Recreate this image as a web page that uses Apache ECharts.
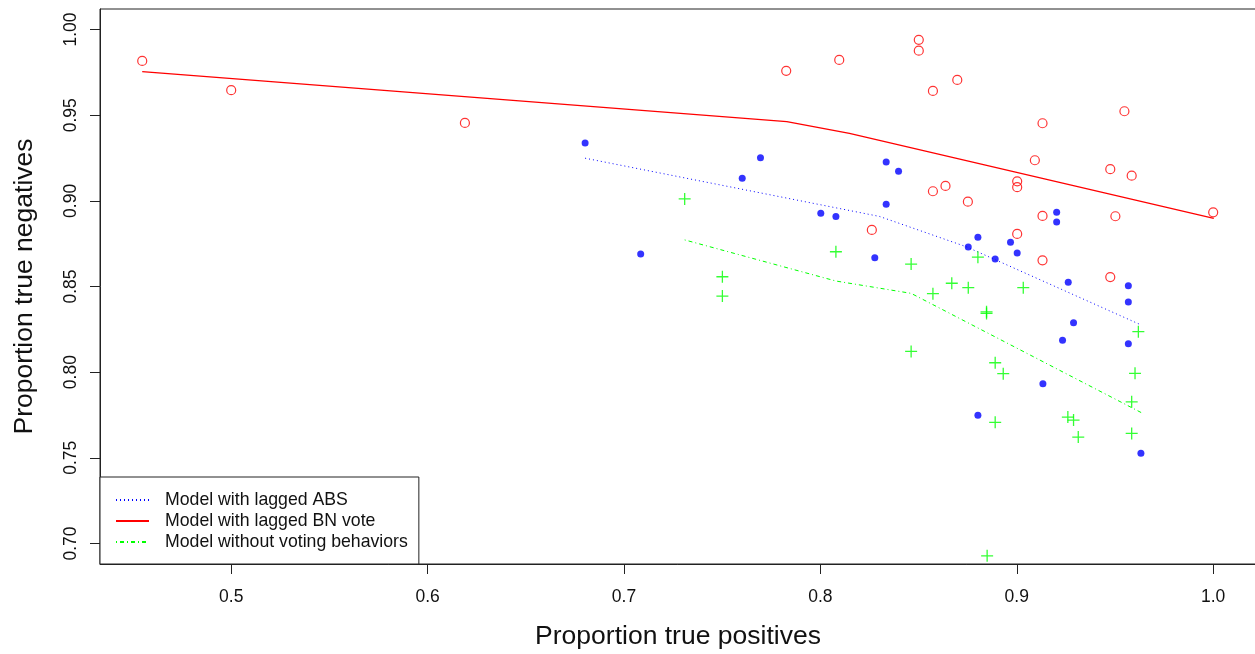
<!DOCTYPE html>
<html>
<head>
<meta charset="utf-8">
<script src="https://cdn.jsdelivr.net/npm/echarts@6.0.0/dist/echarts.min.js"></script>
<style>
  html, body { margin: 0; padding: 0; background: #fff; }
  #chart { width: 1255px; height: 654px; }
</style>
</head>
<body>
<div id="chart"></div>
<script>
// tick labels
const xTicks = [0.5, 0.6, 0.7, 0.8, 0.9, 1.0];
const yTicks = [0.70, 0.75, 0.80, 0.85, 0.90, 0.95, 1.00];

// model with lagged BN vote (open red circles)
const bnX = [0.4547, 0.5000, 0.6190, 0.7826, 0.8096, 0.8262, 0.8501, 0.8501, 0.8697, 0.8573,
  0.9548, 0.9131, 0.9092, 0.9476, 0.9585, 0.8573, 0.8637, 0.9002, 0.9002, 0.8751,
  0.9131, 0.9502, 1.0000, 0.9002, 0.9131, 0.9476];
const bnY = [0.9817, 0.9646, 0.9455, 0.9759, 0.9823, 0.8830, 0.9940, 0.9877, 0.9706, 0.9642,
  0.9523, 0.9453, 0.9237, 0.9185, 0.9147, 0.9056, 0.9087, 0.9114, 0.9080, 0.8995,
  0.8912, 0.8910, 0.8933, 0.8807, 0.8653, 0.8555];

// model with lagged ABS (filled blue dots)
const absX = [0.6802, 0.7695, 0.7602, 0.8335, 0.8398, 0.8335, 0.8002, 0.8079, 0.7085, 0.8277,
  0.9203, 0.9203, 0.8802, 0.8753, 0.8968, 0.9002, 0.8890, 0.9262, 0.9568, 0.9568,
  0.9289, 0.9233, 0.9568, 0.9133, 0.8802, 0.9632];
const absY = [0.9338, 0.9251, 0.9132, 0.9227, 0.9173, 0.8980, 0.8928, 0.8908, 0.8690, 0.8668,
  0.8933, 0.8877, 0.8787, 0.8731, 0.8758, 0.8696, 0.8661, 0.8525, 0.8505, 0.8409,
  0.8289, 0.8186, 0.8166, 0.7932, 0.7748, 0.7527];

// model without voting behaviors (green crosses)
const noVoteX = [0.7309, 0.8079, 0.7501, 0.7501, 0.8462, 0.8573, 0.8462, 0.8802, 0.8669, 0.8753,
  0.9033, 0.8846, 0.8846, 0.8890, 0.8931, 0.9619, 0.9602, 0.9585, 0.8890, 0.9260,
  0.9289, 0.9313, 0.9585, 0.8849, 0.7309];
const noVoteY = [0.9011, 0.8703, 0.8557, 0.8444, 0.8631, 0.8458, 0.8121, 0.8671, 0.8519, 0.8493,
  0.8493, 0.8352, 0.8343, 0.8055, 0.7991, 0.8236, 0.7993, 0.7827, 0.7707, 0.7738,
  0.7720, 0.7621, 0.7642, 0.6928, 0.6840];

// fitted curves
const bnLineX = [0.4547, 0.7829, 0.8148, 1.0003];
const bnLineY = [0.9755, 0.9463, 0.9394, 0.8898];
const absLineX = [0.6802, 0.8301, 0.8743, 0.9634];
const absLineY = [0.9249, 0.8909, 0.8732, 0.8275];
const noVoteLineX = [0.7309, 0.8079, 0.8462, 0.9642];
const noVoteLineY = [0.8772, 0.8532, 0.8460, 0.7759];

const zip = (xs, ys) => xs.map((x, i) => [x, ys[i]]);

const FONT = 'Liberation Sans';
const AXIS_COLOR = '#222';

const chart = echarts.init(document.getElementById('chart'));
chart.setOption({
  animation: false,
  backgroundColor: '#fff',
  grid: {
    left: 100, top: 9, right: -1, bottom: 90,
    containLabel: false,
    outerBoundsMode: 'none',
    show: true,
    borderColor: AXIS_COLOR,
    borderWidth: 1,
    backgroundColor: 'transparent'
  },
  xAxis: {
    type: 'value',
    min: 0.4332,
    max: 1.0218,
    name: 'Proportion true positives',
    nameLocation: 'middle',
    nameGap: 59,
    nameTextStyle: { fontFamily: FONT, fontSize: 26.5, color: '#111' },
    axisLine: { show: true, onZero: false, lineStyle: { color: AXIS_COLOR, width: 1 } },
    axisTick: { show: true, inside: false, length: 10, customValues: xTicks, lineStyle: { color: AXIS_COLOR } },
    axisLabel: {
      show: true, margin: 24, customValues: xTicks,
      fontFamily: FONT, fontSize: 17.5, color: '#111',
      formatter: v => v.toFixed(1)
    },
    splitLine: { show: false }
  },
  yAxis: {
    type: 'value',
    min: 0.688,
    max: 1.012,
    name: 'Proportion true negatives',
    nameLocation: 'middle',
    nameGap: 62,
    nameRotate: 90,
    nameTextStyle: { fontFamily: FONT, fontSize: 26.5, color: '#111' },
    axisLine: { show: true, onZero: false, lineStyle: { color: AXIS_COLOR, width: 1 } },
    axisTick: { show: true, inside: false, length: 10, customValues: yTicks, lineStyle: { color: AXIS_COLOR } },
    axisLabel: {
      show: true, margin: 20, rotate: 90, customValues: yTicks,
      fontFamily: FONT, fontSize: 17.5, color: '#111',
      formatter: v => v.toFixed(2)
    },
    splitLine: { show: false }
  },
  legend: {
    orient: 'vertical',
    left: 100,
    top: 477,
    padding: [14, 11, 13, 15],
    itemGap: 3,
    itemWidth: 33,
    itemHeight: 14,
    borderColor: AXIS_COLOR,
    borderWidth: 1,
    backgroundColor: '#fff',
    // hide the marker, keep the line sample
    itemStyle: { opacity: 0 },
    data: ['Model with lagged ABS', 'Model with lagged BN vote', 'Model without voting behaviors'],
    textStyle: { fontFamily: FONT, fontSize: 17.7, color: '#111', padding: [0, 0, 0, 11] }
  },
  series: [
    {
      name: 'BN vote points',
      type: 'scatter',
      data: zip(bnX, bnY),
      symbol: 'circle',
      symbolSize: 9,
      itemStyle: { color: 'rgba(0,0,0,0)', borderColor: '#ff0000', borderWidth: 1.2 },
      z: 3
    },
    {
      name: 'ABS points',
      type: 'scatter',
      data: zip(absX, absY),
      symbol: 'circle',
      symbolSize: 7,
      itemStyle: { color: '#0000ff' },
      z: 3
    },
    {
      name: 'No vote points',
      type: 'scatter',
      data: zip(noVoteX, noVoteY),
      symbol: 'path://M0,6L12,6M6,0L6,12',
      symbolSize: 12,
      itemStyle: { color: 'rgba(0,0,0,0)', borderColor: '#00ff00', borderWidth: 1.3 },
      z: 3
    },
    {
      name: 'Model with lagged ABS',
      type: 'line',
      data: zip(absLineX, absLineY),
      symbol: 'none',
      color: '#0000ff',
      lineStyle: { color: '#0000ff', width: 1, type: [1, 3] },
      z: 2
    },
    {
      name: 'Model with lagged BN vote',
      type: 'line',
      data: zip(bnLineX, bnLineY),
      symbol: 'none',
      color: '#ff0000',
      lineStyle: { color: '#ff0000', width: 1.3, type: 'solid' },
      z: 2
    },
    {
      name: 'Model without voting behaviors',
      type: 'line',
      data: zip(noVoteLineX, noVoteLineY),
      symbol: 'none',
      color: '#00ff00',
      lineStyle: { color: '#00ff00', width: 1, type: [1, 3, 4, 3] },
      z: 2
    }
  ]
});
</script>
</body>
</html>
